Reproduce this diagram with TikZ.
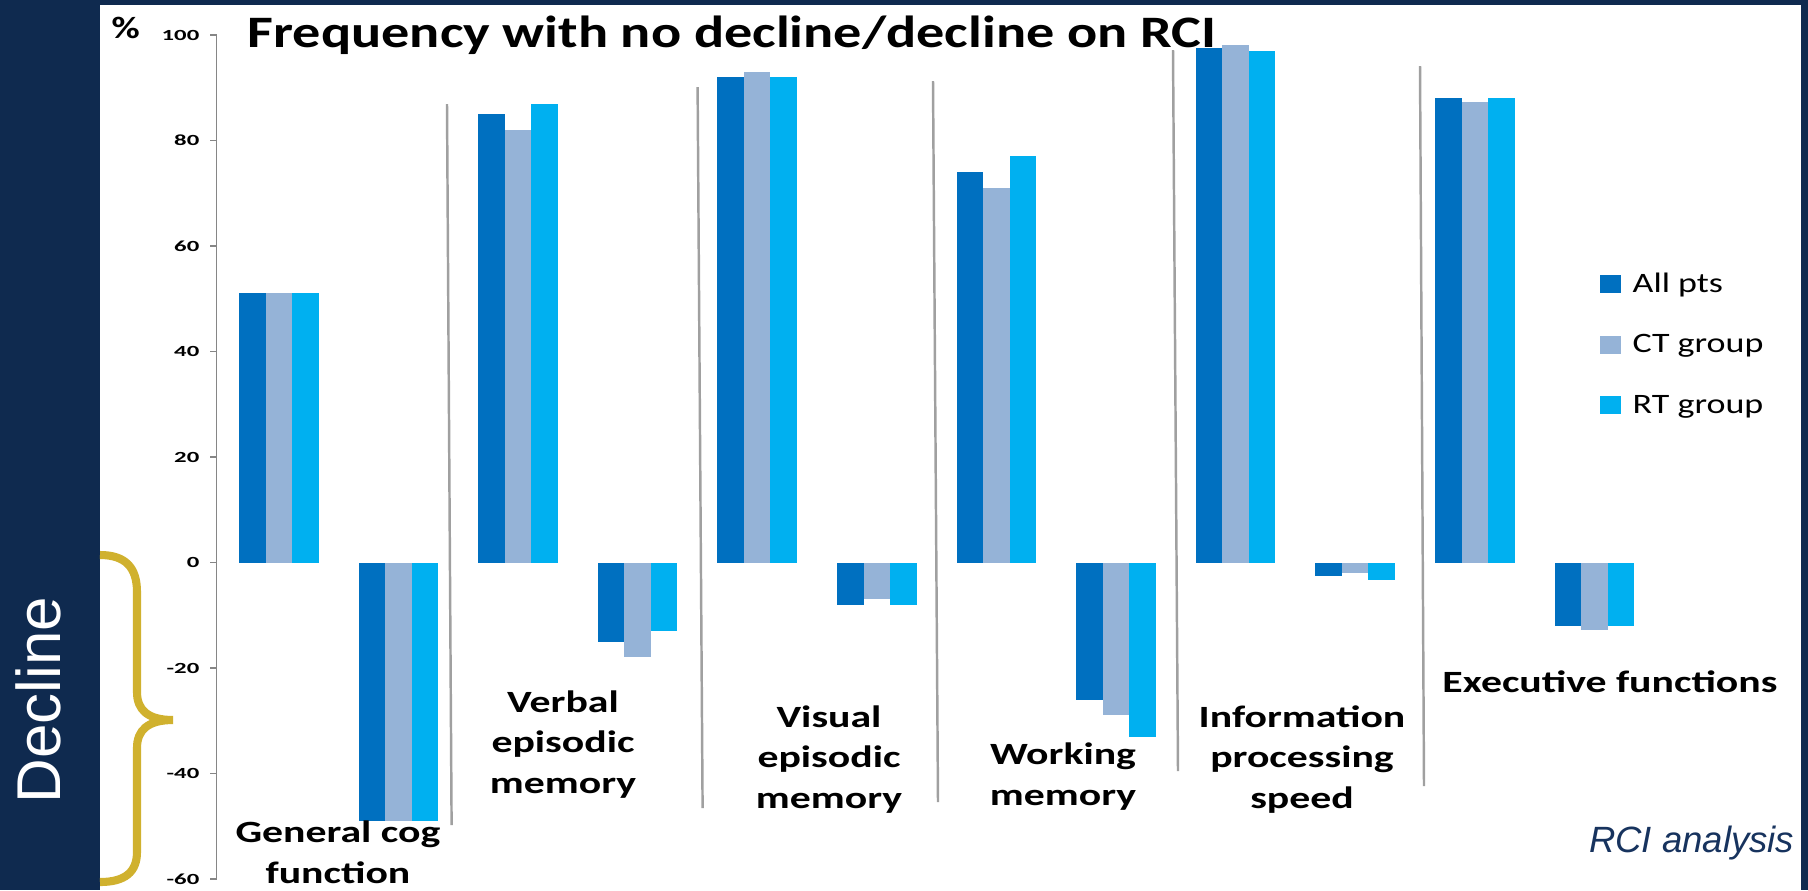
\documentclass[tikz,border=0pt]{standalone}
\usepackage{fontspec}
\setmainfont{Carlito}
\newfontfamily\ttlfont{Carlito}[FakeStretch=1.25]
\newfontfamily\catfont{Carlito}[FakeStretch=1.35]
\newfontfamily\legfont{Carlito}[FakeStretch=1.28]
\newfontfamily\tickfont{Carlito}[FakeStretch=1.6]
\newfontfamily\slidefont{Liberation Sans}
\usetikzlibrary{positioning}

\definecolor{slidenavy}{HTML}{0F2A4F}
\definecolor{notenavy}{HTML}{17335E}
\definecolor{allpts}{HTML}{0070C0}
\definecolor{ctgrp}{HTML}{95B3D7}
\definecolor{rtgrp}{HTML}{00B0F0}
\definecolor{bracegold}{HTML}{D0B12E}
\definecolor{axisgray}{HTML}{868686}
\definecolor{sepgray}{HTML}{A0A0A0}

\begin{document}
\begin{tikzpicture}[x=0.1mm,y=-0.1mm,
		axisline/.style={draw=axisgray,line width=0.5pt},
		sepline/.style={draw=sepgray,line width=0.7pt},
		ticklbl/.style={anchor=east,inner sep=0pt,font=\tickfont\bfseries\fontsize{4.4}{5}\selectfont},
		catlbl/.style={anchor=base,align=center,inner sep=0pt,font=\catfont\bfseries\fontsize{8.8}{11.4}\selectfont},
		legbox/.style={minimum width=2.1mm,minimum height=1.8mm,inner sep=0pt},
		leglbl/.style={anchor=base west,inner sep=0pt,font=\legfont\fontsize{8}{9}\selectfont}]

	\useasboundingbox (0,0) rectangle (1808,890);
	\fill[slidenavy] (0,0) rectangle (1808,890);
	\fill[white] (100,5) rectangle (1801,890);

	% bars: no decline / decline for each domain
	\foreach \i/\a/\c/\r in {0/51/51/51, 1/-49/-49/-49, 2/85/82/87, 3/-15/-18/-13,
			4/92/93/92, 5/-8/-7/-8, 6/74/71/77, 7/-26/-29/-33,
			8/97.5/98.2/97, 9/-2.5/-2/-3.3, 10/88/87.3/88, 11/-12/-12.7/-12}
	{
		\pgfmathsetmacro\xs{239+119.6*\i}
		\fill[allpts] (\xs,562.5) rectangle ({\xs+26.5},{562.5-5.275*\a});
		\fill[ctgrp] ({\xs+26.5},562.5) rectangle ({\xs+53},{562.5-5.275*\c});
		\fill[rtgrp] ({\xs+53},562.5) rectangle ({\xs+79.5},{562.5-5.275*\r});
	}

	% separators between domains
	\foreach \xa/\ya/\xb/\yb in {447/104/451.6/825, 697.6/87/702.6/808, 933/81/938/802,
			1173/50/1178/771, 1420/66/1424/786}
		\draw[sepline] (\xa,\ya) -- (\xb,\yb);

	% y axis
	\draw[axisline] (216.5,35) -- (216.5,879);
	\foreach \v in {100,80,...,-60} {
		\draw[axisline] (210,{562.5-5.275*\v}) -- (216.5,{562.5-5.275*\v});
		\node[ticklbl] (tick\v) at (200,{562.5-5.275*\v}) {\v};
	}
	\node[anchor=base west,inner sep=0pt,font=\ttlfont\bfseries\fontsize{8.8}{9}\selectfont] (pct) at (111,38) {\%};

	\node[anchor=base west,inner sep=0pt,font=\ttlfont\bfseries\fontsize{12.8}{14}\selectfont] (title) at (247,47)
		{Frequency with no decline/decline on RCI};

	% domain labels (anchored on the last line)
	\node[catlbl] (gencog) at (338,883) {General cog\\function};
	\node[catlbl] (verbal) at (563,793) {Verbal\\episodic\\memory};
	\node[catlbl] (visual) at (829,808) {Visual\\episodic\\memory};
	\node[catlbl] (working) at (1063,805) {Working\\memory};
	\node[catlbl] (infoproc) at (1302,808) {Information\\processing\\speed};
	\node[catlbl] (execfn) at (1610,692) {Executive functions};

	% legend
	\foreach \k/\col/\txt in {0/allpts/All pts, 1/ctgrp/CT group, 2/rtgrp/RT group} {
		\node[legbox,fill=\col] (key\k) at (1610,{284+60.5*\k}) {};
		\node[leglbl] (lab\k) at (1632,{292+60.5*\k}) {\txt};
	}

	% decline brace
	\draw[bracegold,line width=2.3pt]
		(100,555) .. controls (125,555) and (137,567) .. (137,592) -- (137,692)
		.. controls (137,710) and (148,720) .. (173,720)
		.. controls (148,720) and (137,730) .. (137,748) -- (137,852)
		.. controls (137,872) and (125,882) .. (100,882);
	\node[rotate=90,text=white,inner sep=0pt,font=\slidefont\fontsize{17.6}{18}\selectfont] (decline) at (38,700) {Decline};

	\node[anchor=base east,inner sep=0pt,text=notenavy,font=\slidefont\itshape\fontsize{10.4}{11}\selectfont] (rci) at (1795,852) {RCI analysis};
\end{tikzpicture}
\end{document}
